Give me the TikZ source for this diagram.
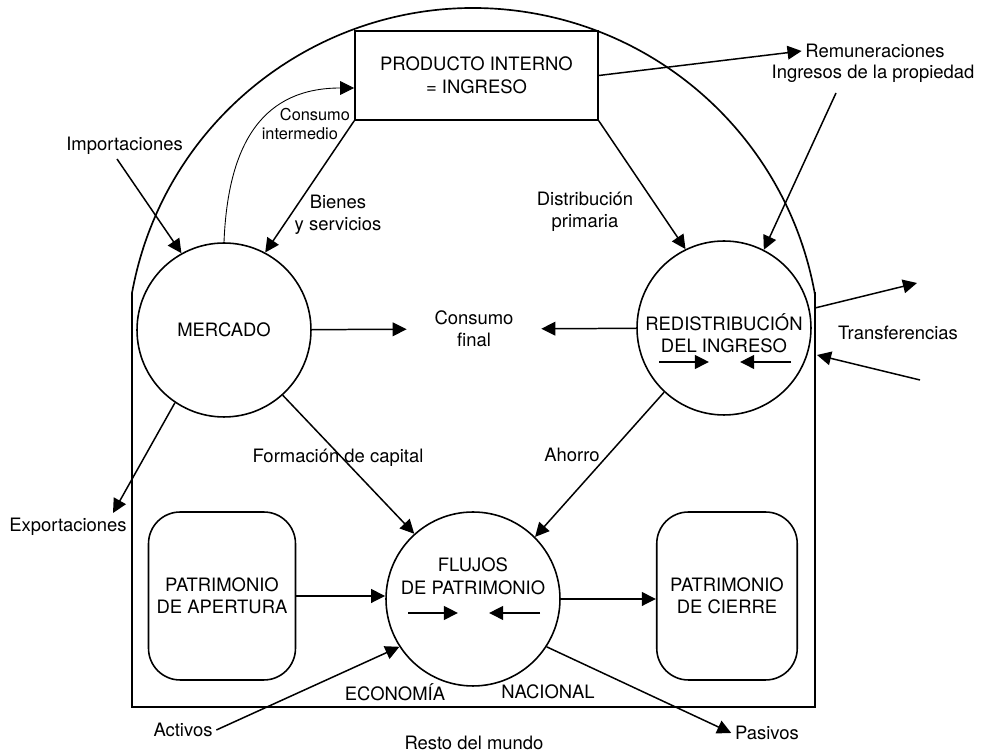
\documentclass[tikz,border=0pt]{standalone}
\usepackage{fontspec}
\setmainfont{TeX Gyre Heros}
\usetikzlibrary{arrows.meta,calc}
\begin{document}
\begin{tikzpicture}[x=0.02cm,y=0.02cm,
  every node/.style={font=\fontsize{10.5}{12.8}\selectfont, align=center, inner sep=2pt},
  arr/.style={draw=black, line width=0.85pt, -{Triangle[length=8pt,width=7.8pt]}},
  thinarr/.style={draw=black, line width=0.5pt, -{Triangle[length=8pt,width=7.8pt]}},
  bubble/.style={circle, draw, line width=0.9pt, minimum size=3.48cm, inner sep=0pt},
  ledger/.style={rectangle, draw, line width=0.9pt, rounded corners=18pt, minimum height=3.36cm},
  small/.style={font=\fontsize{9.3}{11}\selectfont, inner sep=1pt}]
\useasboundingbox (0,0) rectangle (992,754);

% national economy boundary: walls, floor and the arched roof
\draw[line width=0.95pt] (815,461) -- (815,47) -- (132,47) -- (132,461)
  arc[start angle=169.71, end angle=10.29, radius=6.94cm] -- cycle;

% main blocks
\node[draw, line width=0.9pt, minimum width=4.86cm, minimum height=1.78cm] (pi) at (476.5,678.5) {PRODUCTO INTERNO\\= INGRESO};
\node[bubble] (mercado) at (224,424) {MERCADO};
\node[bubble] (redist) at (724,426) {};
\node (redisttxt) at (724,421) {REDISTRIBUCIÓN\\DEL INGRESO};
\node[bubble] (flujos) at (473,155) {};
\node (flujostxt) at (473,177.5) {FLUJOS\\DE PATRIMONIO};
\node[ledger, minimum width=2.94cm] (apertura) at (222,158) {PATRIMONIO\\DE APERTURA};
\node[ledger, minimum width=2.81cm] (cierre) at (727,158) {PATRIMONIO\\DE CIERRE};
\node[minimum width=2.68cm, inner sep=0pt] (cf) at (474,425) {Consumo\\final};

% labels
\node (imp) at (124.5,608) {Importaciones};
\node (exp) at (68,227) {Exportaciones};
\node (bienes) at (338,539) {Bienes\\y servicios};
\node (dist) at (585,542) {Distribución\\primaria};
\node (remun) at (875,703) {Remuneraciones};
\node (ingr) at (873,680) {Ingresos de la propiedad};
\node (transf) at (898,421) {Transferencias};
\node (formacion) at (338,296) {Formación de capital};
\node (ahorro) at (572,299) {Ahorro};
\node (activos) at (183,24) {Activos};
\node (pasivos) at (767,21) {Pasivos};
\node (econ) at (395,62) {ECONOMÍA};
\node (nac) at (548,62) {NACIONAL};
\node (resto) at (474,11) {Resto del mundo};
\node[small, anchor=east] (cons1) at (352,639) {Consumo};
\node[small, anchor=east] (cons2) at (340,620) {intermedio};

% free ends of connectors
\coordinate (impS) at (117,595);
\coordinate (expT) at (113,241);
\coordinate (ingS) at (836,661);
\coordinate (trOutS) at (815,446);
\coordinate (trOutE) at (917,471);
\coordinate (trInS) at (920,374);
\coordinate (trInE) at (817,399);
\coordinate (rA1) at (659,392); \coordinate (rA2) at (709,392);
\coordinate (rB1) at (791,392); \coordinate (rB2) at (740,392);
\coordinate (fA1) at (408,141); \coordinate (fA2) at (458,141);
\coordinate (fB1) at (540,141); \coordinate (fB2) at (489,141);

% flows
\draw[arr] (impS) -- (mercado.119);
\draw[arr] (pi.south west) -- (mercado.62);
\draw[thinarr] (mercado.north) .. controls (228,614) and (265,666) .. ([yshift=-0.25cm]pi.west);
\draw[arr] (pi.south east) -- (redist.116);
\draw[arr] (pi.east) -- (remun.west);
\draw[arr] (ingS) -- (redist.63);
\draw[arr] (mercado) -- (cf);
\draw[arr] (redist) -- (cf);
\draw[arr] (mercado.236) -- (expT);
\draw[arr] (mercado.-48) -- (flujos.132);
\draw[arr] (redist.227) -- (flujos.45);
\draw[arr] (trOutS) -- (trOutE);
\draw[arr] (trInS) -- (trInE);
\draw[arr] (apertura.east) -- (apertura.east -| flujos.west);
\draw[arr] (flujos.east) -- (flujos.east -| cierre.west);
\draw[arr] (activos.east) -- (flujos.213);
\draw[arr] (flujos.-33) -- (pasivos.west);

% opposing arrows inside the circles
\draw[arr] (rA1) -- (rA2);
\draw[arr] (rB1) -- (rB2);
\draw[arr] (fA1) -- (fA2);
\draw[arr] (fB1) -- (fB2);
\end{tikzpicture}
\end{document}
